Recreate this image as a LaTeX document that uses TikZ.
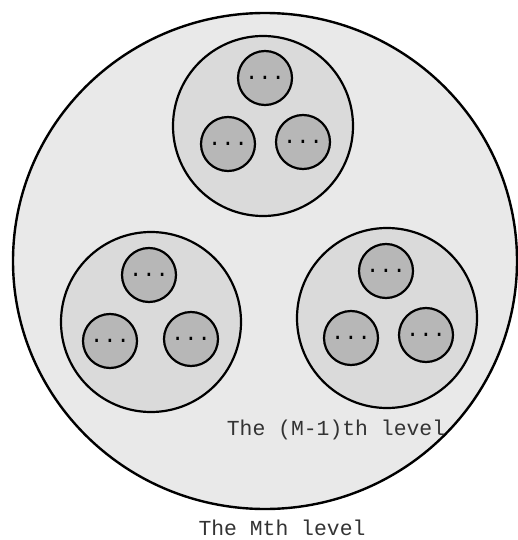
\documentclass[tikz,border=0pt]{standalone}
\usepackage{fontspec}
\setmonofont{Liberation Mono}
\usepackage{tikz}
\usetikzlibrary{shapes.geometric}
\definecolor{levelbg}{HTML}{E9E9E9}
\definecolor{groupbg}{HTML}{DADADA}
\definecolor{unitbg}{HTML}{B7B7B7}
\tikzset{
every picture/.style={line cap=round,line join=round},
top level/.style={
  draw=black,
  ellipse,
  fill=levelbg,
  line width=2.4pt,
  inner sep=0pt,
  minimum width=504pt,
  minimum height=496pt
},
group level/.style={
  draw=black,
  circle,
  fill=groupbg,
  line width=2.2pt,
  inner sep=0pt,
  minimum size=180pt
},
unit node/.style={
  draw=black,
  circle,
  fill=unitbg,
  line width=2.2pt,
  inner sep=0pt,
  minimum size=54pt,
  font=\ttfamily\fontsize{22}{22}\selectfont
},
level label/.style={font=\ttfamily\fontsize{21.4}{24}\selectfont, text=black!80, anchor=base, inner sep=0pt}
}

\begin{document}
\begin{tikzpicture}[x=1pt,y=-1pt]
\useasboundingbox (0,0) rectangle (518,540);
\node[top level] (mth) at (265,261) {};
% the three groups of the (M-1)th level
\node[group level] (gtop) at (263,126) {};
\node[group level] (gleft) at (151,322) {};
\node[group level] (gright) at (387,318) {};
\node[unit node] (ta) at (265,78) {...};
\node[unit node] (tb) at (228,144) {...};
\node[unit node] (tc) at (303,142) {...};
\node[unit node] (la) at (149,275) {...};
\node[unit node] (lb) at (110,341) {...};
\node[unit node] (lc) at (191,339) {...};
\node[unit node] (ra) at (386,271) {...};
\node[unit node] (rb) at (351,338) {...};
\node[unit node] (rc) at (426,335) {...};
\node[level label] (mlabel) at (336,435) {The (M-1)th level};
\node[level label] (nlabel) at (282,535) {The Mth level};
\end{tikzpicture}
\end{document}
